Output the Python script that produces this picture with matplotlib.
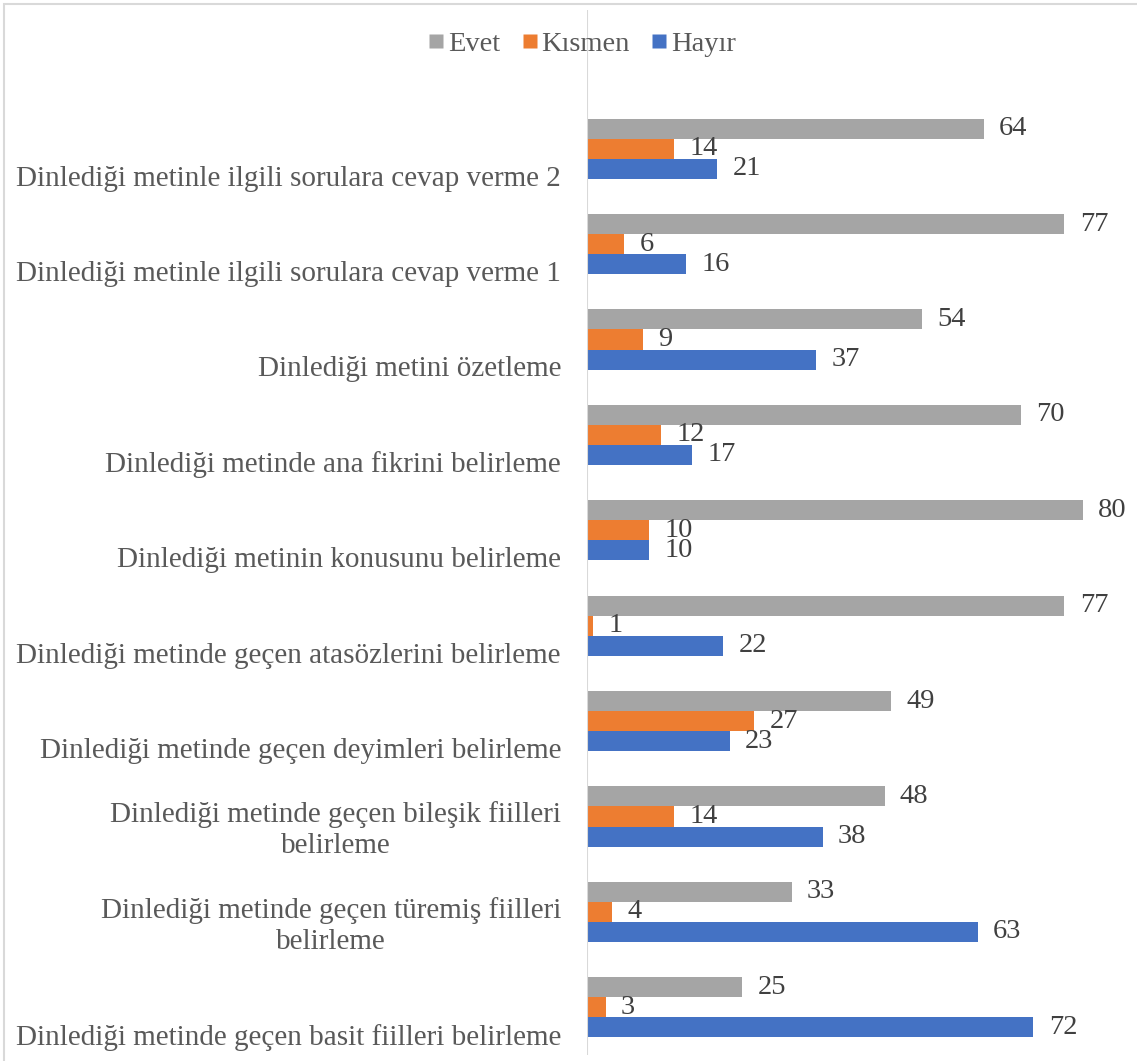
import matplotlib
matplotlib.use("Agg")
import matplotlib.pyplot as plt
from matplotlib.patches import Rectangle
from matplotlib.lines import Line2D
from matplotlib.transforms import blended_transform_factory

plt.rcParams['font.family'] = ['Liberation Serif', 'DejaVu Serif']

categories = [
    "Dinlediği metinle ilgili sorulara cevap verme 2",
    "Dinlediği metinle ilgili sorulara cevap verme 1",
    "Dinlediği metini özetleme",
    "Dinlediği metinde ana fikrini belirleme",
    "Dinlediği metinin konusunu belirleme",
    "Dinlediği metinde geçen atasözlerini belirleme",
    "Dinlediği metinde geçen deyimleri belirleme",
    "Dinlediği metinde geçen bileşik fiilleri\nbelirleme",
    "Dinlediği metinde geçen türemiş fiilleri\nbelirleme",
    "Dinlediği metinde geçen basit fiilleri belirleme",
]
evet = [64, 77, 54, 70, 80, 77, 49, 48, 33, 25]
kismen = [14, 6, 9, 12, 10, 1, 27, 14, 4, 3]
hayir = [21, 16, 37, 17, 10, 22, 23, 38, 63, 72]
series_names = ["Evet", "Kısmen", "Hayır"]
colors = ["#A5A5A5", "#ED7D31", "#4472C4"]

W, H, DPI = 1137, 1061, 100
fig = plt.figure(figsize=(W / DPI, H / DPI), dpi=DPI)

# plot area in pixel terms
left_px, right_px, top_px, bottom_px = 587, 1137, 10, 1055
ax = fig.add_axes([left_px / W, 1 - bottom_px / H,
                   (right_px - left_px) / W, (bottom_px - top_px) / H])

band_px = 95.4
n = len(categories)
ax.set_ylim(n - 0.5, n - 0.5 - (bottom_px - top_px) / band_px)
ax.set_xlim(0, (right_px - left_px) / 6.2)

bh = 0.21
pos = list(range(n))
for k, (vals, col) in enumerate(zip([evet, kismen, hayir], colors)):
    ys = [p + (k - 1) * bh for p in pos]
    ax.barh(ys, vals, height=bh, color=col, edgecolor='none', zorder=2)
    for y, v in zip(ys, vals):
        ax.annotate(str(v), (v, y), xytext=(11, 0), textcoords='offset points',
                    ha='left', va='center', fontsize=20.5, color='#404040')

# category labels, bottom line aligned just below the bar group
trans = blended_transform_factory(ax.transAxes, ax.transData)
for p, lab in zip(pos, categories):
    nl = lab.count("\n") + 1
    off_px = 30 - 16 * (nl - 1)
    ax.annotate(lab, (0, p), xycoords=trans,
                xytext=(-26 * 0.72, -off_px * 0.72), textcoords='offset points',
                ha='right', va='center', multialignment='center',
                fontsize=21, color='#595959', linespacing=1.25)

for s in ax.spines.values():
    s.set_visible(False)
ax.set_xticks([])
ax.set_yticks([])
ax.axvline(0, color='#D9D9D9', lw=1.5, zorder=3)

# chart border
fig.patches.append(Rectangle((4 / W, -0.01), 1.02, 1 - 4 / H + 0.01,
                             transform=fig.transFigure, fill=False,
                             edgecolor='#D9D9D9', lw=1.5))

handles = [Line2D([], [], marker='s', linestyle='none', markersize=10.5,
                  markerfacecolor=c, markeredgecolor='none') for c in colors]
fig.legend(handles, series_names, loc='center', bbox_to_anchor=(581 / W, 1 - 44 / H),
           ncol=3, frameon=False, fontsize=20.5, handletextpad=0.05,
           columnspacing=0.7, labelcolor='#595959', handlelength=0.7)

fig.savefig("out.png", dpi=DPI)
